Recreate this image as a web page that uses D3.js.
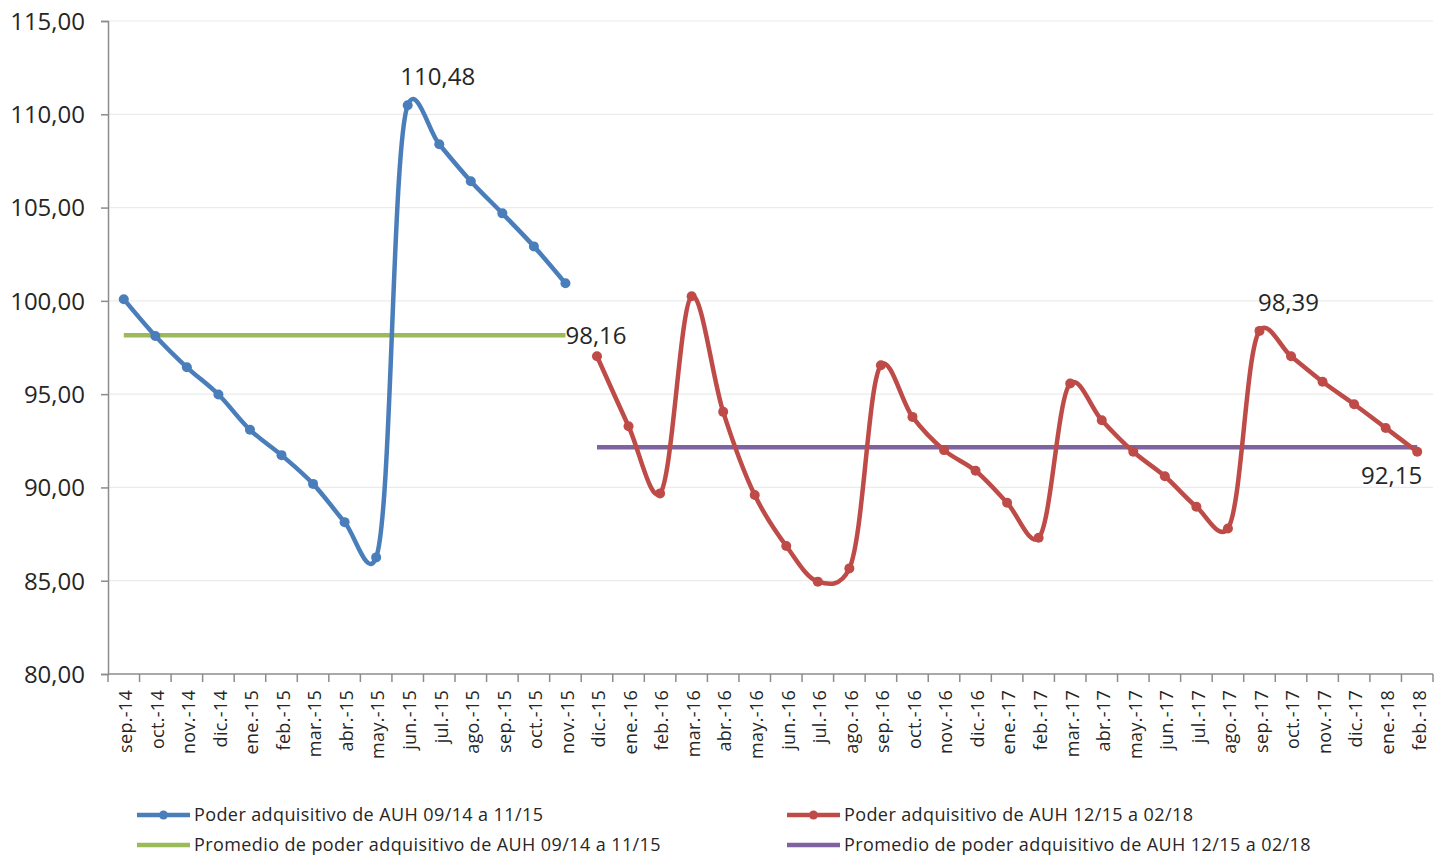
<!DOCTYPE html>
<html>
<head>
<meta charset="utf-8">
<script src="https://cdn.jsdelivr.net/npm/d3@7"></script>
<style>
  body { margin: 0; background: #fff; }
  text { font-family: "Open Sans", "Noto Sans", sans-serif; fill: #262626; }
</style>
</head>
<body>
<div id="chart"></div>
<script>
// months on the x axis
var months = ["sep.-14", "oct.-14", "nov.-14", "dic.-14", "ene.-15", "feb.-15", "mar.-15", "abr.-15",
  "may.-15", "jun.-15", "jul.-15", "ago.-15", "sep.-15", "oct.-15", "nov.-15",
  "dic.-15", "ene.-16", "feb.-16", "mar.-16", "abr.-16", "may.-16", "jun.-16", "jul.-16", "ago.-16",
  "sep.-16", "oct.-16", "nov.-16", "dic.-16", "ene.-17", "feb.-17", "mar.-17", "abr.-17", "may.-17",
  "jun.-17", "jul.-17", "ago.-17", "sep.-17", "oct.-17", "nov.-17", "dic.-17", "ene.-18", "feb.-18"];

// first period 09/14 - 11/15
var months1 = months.slice(0, 15);
var values1 = [100.09, 98.12, 96.44, 94.98, 93.09, 91.73, 90.19, 88.14, 86.25,
  110.48, 108.39, 106.41, 104.69, 102.92, 100.94];
var avg1 = 98.16;

// second period 12/15 - 02/18
var months2 = months.slice(15);
var values2 = [97.03, 93.28, 89.68, 100.25, 94.05, 89.59, 86.86, 84.95, 85.66,
  96.55, 93.78, 92.0, 90.89, 89.18, 87.3, 95.57, 93.6, 91.91, 90.6, 88.96, 87.8,
  98.39, 97.03, 95.66, 94.46, 93.19, 91.91];
var avg2 = 92.15;

var yTicks = [80, 85, 90, 95, 100, 105, 110, 115];

var legendNames = ["Poder adquisitivo de AUH 09/14 a 11/15",
  "Poder adquisitivo de AUH 12/15 a 02/18",
  "Promedio de poder adquisitivo de AUH 09/14 a 11/15",
  "Promedio de poder adquisitivo de AUH 12/15 a 02/18"];

var width = 1434;
var height = 856;
var margin = { top: 21, right: 1, bottom: 182, left: 108 };

var blue = "#4a7ebb", red = "#be4b48", green = "#9bbb59", purple = "#7f63a1";

var svg = d3.select("#chart")
  .append("svg")
  .attr("width", width)
  .attr("height", height);

var x = d3.scaleBand()
  .domain(months)
  .range([margin.left, width - margin.right]);

var y = d3.scaleLinear()
  .domain([80, 115])
  .range([height - margin.bottom, margin.top]);

var fmt = function (v) { return d3.format(".2f")(v).replace(".", ","); };
var cx = function (m) { return x(m) + x.bandwidth() / 2; };

// gridlines
svg.append("g")
  .selectAll("line")
  .data(yTicks.slice(1))
  .enter()
  .append("line")
  .attr("x1", margin.left)
  .attr("x2", width - margin.right)
  .attr("y1", d => y(d))
  .attr("y2", d => y(d))
  .attr("stroke", "#ebebeb")
  .attr("stroke-width", 1.2);

// y axis
var yAxis = d3.axisLeft(y).tickValues(yTicks).tickSize(7).tickFormat(fmt);
var gy = svg.append("g")
  .attr("transform", `translate(${margin.left}, 0)`)
  .call(yAxis);
gy.select(".domain").attr("stroke", "#8c8c8c").attr("stroke-width", 1.5);
gy.selectAll(".tick line").attr("stroke", "#8c8c8c").attr("stroke-width", 1.5);
gy.selectAll(".tick text")
  .attr("x", -23)
  .attr("dy", "0.35em")
  .style("font-size", "24px");

// x axis: ticks on the band boundaries
var gx = svg.append("g")
  .attr("transform", `translate(0, ${y(80)})`);
gx.append("line")
  .attr("x1", margin.left)
  .attr("x2", width - margin.right)
  .attr("stroke", "#8c8c8c")
  .attr("stroke-width", 1.5);
gx.selectAll(".xt")
  .data(months.concat(["end"]))
  .enter()
  .append("line")
  .attr("class", "xt")
  .attr("x1", (d, i) => margin.left + i * x.step())
  .attr("x2", (d, i) => margin.left + i * x.step())
  .attr("y2", 8)
  .attr("stroke", "#8c8c8c")
  .attr("stroke-width", 1.5);
gx.selectAll(".xl")
  .data(months)
  .enter()
  .append("text")
  .attr("class", "xl")
  .attr("transform", d => `translate(${cx(d) + 2}, 16) rotate(-90)`)
  .attr("dy", "0.35em")
  .style("text-anchor", "end")
  .style("font-size", "18px")
  .style("letter-spacing", "0.3px")
  .text(d => d);

// average lines
function avgLine(ms, v, color) {
  svg.append("line")
    .attr("x1", cx(ms[0]))
    .attr("x2", cx(ms[ms.length - 1]))
    .attr("y1", y(v))
    .attr("y2", y(v))
    .attr("stroke", color)
    .attr("stroke-width", 4.5);
}
avgLine(months1, avg1, green);
avgLine(months2, avg2, purple);

// smoothed series with markers
var line = d3.line()
  .x(d => cx(d.m))
  .y(d => y(d.v))
  .curve(d3.curveCatmullRom.alpha(0.25));

function series(ms, vals, color) {
  var pts = ms.map((m, i) => ({ m: m, v: vals[i] }));
  svg.append("path")
    .datum(pts)
    .attr("d", line)
    .attr("fill", "none")
    .attr("stroke", color)
    .attr("stroke-width", 4.5)
    .attr("stroke-linejoin", "round");
  svg.append("g")
    .selectAll("circle")
    .data(pts)
    .enter()
    .append("circle")
    .attr("cx", d => cx(d.m))
    .attr("cy", d => y(d.v))
    .attr("r", 5)
    .attr("fill", color);
}
series(months1, values1, blue);
series(months2, values2, red);

// data labels
var labels = [
  { m: months1[9], v: values1[9], dx: 30, dy: -20, anchor: "middle" },
  { m: months2[21], v: values2[21], dx: 29, dy: -20, anchor: "middle" },
  { m: months1[14], v: avg1, dx: 0, dy: 9, anchor: "start" },
  { m: months2[26], v: avg2, dx: 5, dy: 37, anchor: "end" }
];
svg.append("g")
  .selectAll("text")
  .data(labels)
  .enter()
  .append("text")
  .attr("x", d => cx(d.m) + d.dx)
  .attr("y", d => y(d.v) + d.dy)
  .style("text-anchor", d => d.anchor)
  .style("font-size", "24px")
  .text(d => fmt(d.v));

// legend
var legendColors = [blue, red, green, purple];
var leg = svg.append("g")
  .selectAll("g")
  .data(legendNames)
  .enter()
  .append("g")
  .attr("transform", (d, i) => `translate(${i % 2 === 0 ? 137 : 787}, ${i < 2 ? 815 : 845})`);
leg.append("line")
  .attr("x2", 53)
  .attr("stroke", (d, i) => legendColors[i])
  .attr("stroke-width", 4.5);
leg.filter((d, i) => i < 2)
  .append("circle")
  .attr("cx", 26.5)
  .attr("r", 4.5)
  .attr("fill", (d, i) => legendColors[i]);
leg.append("text")
  .attr("x", 57)
  .attr("dy", "0.35em")
  .style("font-size", "18px")
  .style("letter-spacing", "0.4px")
  .text(d => d);
</script>
</body>
</html>
